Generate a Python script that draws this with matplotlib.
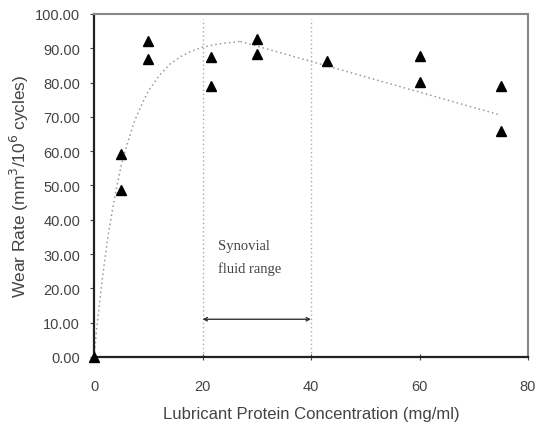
import matplotlib.pyplot as plt

# measured wear data
conc = [0, 5, 5, 10, 10, 21.5, 21.5, 30, 30, 43, 60, 60, 75, 75]
wear = [0, 59.2, 48.7, 92.1, 86.9, 87.5, 79.0, 92.7, 88.3, 86.3, 87.8, 80.2, 79.0, 65.9]

# trend lines
rise_x = [0, 0.5, 1, 1.5, 2, 2.5, 3, 4, 5, 6, 7.5, 9, 10, 12, 14, 16, 18, 20, 22, 24, 26, 27]
rise_y = [0, 8.2, 15.6, 22.3, 28.5, 34.2, 39.3, 48.1, 55.7, 61.5, 68.9, 74.3, 77.5, 82.0, 85.4, 87.6, 89.2, 90.3, 91.0, 91.5, 91.8, 92.0]
fall_x = [27, 75]
fall_y = [92.0, 70.5]

range_lo, range_hi = 20, 40

plt.rcParams['font.family'] = ['Liberation Sans', 'DejaVu Sans']

fig = plt.figure(figsize=(5.39, 4.31), dpi=100)
ax = fig.add_axes([0.1744, 0.1694, 0.8052, 0.7958])

ax.plot(rise_x, rise_y, color='#999999', lw=1.1, ls=(0, (1, 2)))
ax.plot(fall_x, fall_y, color='#999999', lw=1.1, ls=(0, (1, 2)))

for xv in (range_lo, range_hi):
    ax.plot([xv, xv], [0, 98.5], color='#aaaaaa', lw=1.0, ls=(0, (1, 2)))

ax.annotate('', xy=(range_lo, 11), xytext=(range_hi, 11),
            arrowprops=dict(arrowstyle='<->', color='#333333', lw=1.0,
                            mutation_scale=6, shrinkA=0, shrinkB=0))
ax.text(22.8, 34.3, 'Synovial\nfluid range', family='Liberation Serif',
        fontsize=10.5, color='#444444', va='top', ha='left', linespacing=1.85)

ax.plot(conc, wear, ls='none', marker='^', ms=7.5, color='black', clip_on=False, zorder=5)

ax.set_xlim(0, 80)
ax.set_ylim(0, 100)
ax.set_xticks([0, 20, 40, 60, 80])
ax.set_yticks(range(0, 101, 10))
ax.set_yticklabels([f'{v:.2f}' for v in range(0, 101, 10)])

ax.tick_params(axis='y', direction='out', length=3, labelsize=10.5, colors='#444444', pad=7)
ax.tick_params(axis='x', direction='inout', length=4, labelsize=10.5, colors='#444444', pad=14)

for side in ('left', 'bottom'):
    ax.spines[side].set_color('#222222')
    ax.spines[side].set_linewidth(1.6)
for side in ('top', 'right'):
    ax.spines[side].set_color('#888888')
    ax.spines[side].set_linewidth(1.5)

ax.set_xlabel('Lubricant Protein Concentration (mg/ml)', fontsize=12, color='#444444', labelpad=9)
ax.set_ylabel('Wear Rate (mm$^3$/10$^6$ cycles)', fontsize=12.5, color='#444444', labelpad=3)

fig.savefig('out.png', dpi=100)
